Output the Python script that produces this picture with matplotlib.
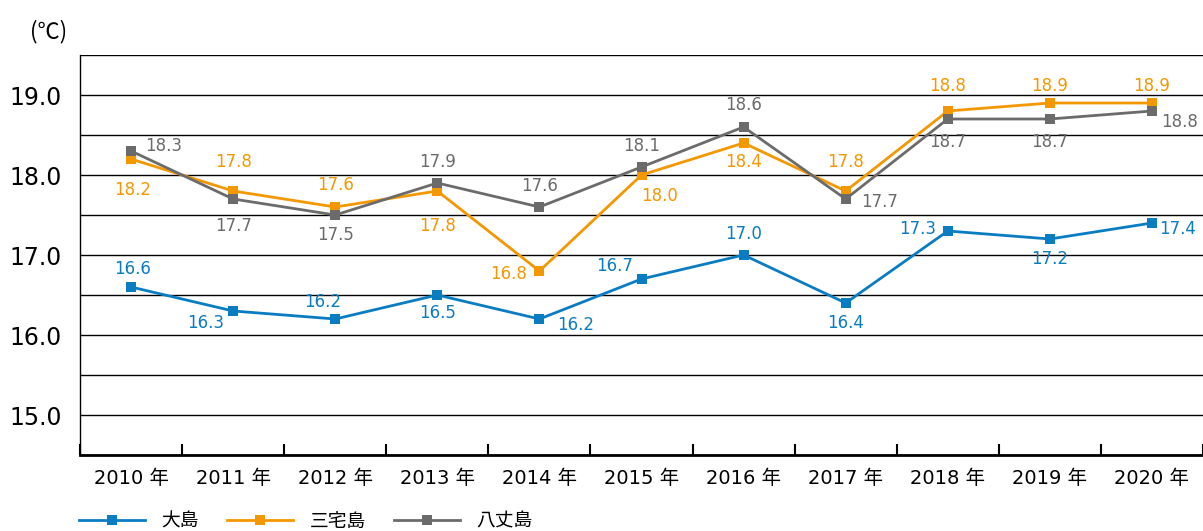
import matplotlib.pyplot as plt
from matplotlib.ticker import MultipleLocator

# DejaVu for the wide digits, Noto CJK for the kanji
plt.rcParams['font.family'] = ['DejaVu Sans', 'Noto Sans CJK JP']

# data
years = ["2010 年", "2011 年", "2012 年", "2013 年", "2014 年", "2015 年",
         "2016 年", "2017 年", "2018 年", "2019 年", "2020 年"]
oshima = [16.6, 16.3, 16.2, 16.5, 16.2, 16.7, 17.0, 16.4, 17.3, 17.2, 17.4]
miyake = [18.2, 17.8, 17.6, 17.8, 16.8, 18.0, 18.4, 17.8, 18.8, 18.9, 18.9]
hachijo = [18.3, 17.7, 17.5, 17.9, 17.6, 18.1, 18.6, 17.7, 18.7, 18.7, 18.8]

# label offsets in pixels (dx, dy), per point
off_oshima = [(2, 18), (-28, -12), (-13, 17), (0, -18), (36, -6), (-27, 13),
              (0, 21), (0, -20), (-30, 2), (0, -20), (26, -6)]
off_miyake = [(2, -31), (0, 29), (0, 22), (0, -35), (-31, -3), (18, -21),
              (0, -19), (0, 29), (0, 25), (0, 17), (0, 17)]
off_hachijo = [(33, 5), (0, -27), (0, -20), (0, 21), (0, 21), (0, 21),
               (0, 22), (34, -3), (0, -23), (0, -23), (28, -11)]

series = [
    ("大島", oshima, "#0a7cc2", off_oshima),
    ("三宅島", miyake, "#f39800", off_miyake),
    ("八丈島", hachijo, "#6b6b6b", off_hachijo),
]

W, H = 1203, 531
fig = plt.figure(figsize=(W / 100, H / 100), dpi=100)
ax = fig.add_axes([80 / W, 1 - 455 / H, 1 - 80 / W, 400 / H])

x = list(range(len(years)))
for name, vals, color, offs in series:
    ax.plot(x, vals, color=color, lw=2.0, marker="s", markersize=7.5,
            markeredgewidth=0, label=name, zorder=3)
    for xi, v, (dx, dy) in zip(x, vals, offs):
        ax.annotate(f"{v:.1f}", (xi, v), xytext=(dx, dy),
                    textcoords="offset pixels", ha="center", va="center",
                    color=color, fontsize=12, zorder=4)

ax.set_xlim(-0.5, len(years) - 0.5)
ax.set_ylim(14.5, 19.5)
ax.yaxis.set_major_locator(MultipleLocator(1.0))
ax.yaxis.set_minor_locator(MultipleLocator(0.5))
ax.yaxis.set_major_formatter(lambda v, p: f"{v:.1f}")
ax.grid(True, axis="y", which="both", color="black", lw=1.0, zorder=1)
ax.tick_params(axis="y", which="both", length=0, labelsize=17, pad=13)

ax.set_xticks(x)
ax.set_xticklabels(years, fontsize=14)
ax.set_xticks([i - 0.5 for i in range(len(years) + 1)], minor=True)
ax.tick_params(axis="x", which="major", length=0, pad=10)
ax.tick_params(axis="x", which="minor", direction="in", length=8, width=1.5)

for s in ["top", "right"]:
    ax.spines[s].set_visible(False)
ax.spines["left"].set_linewidth(1.0)
ax.spines["bottom"].set_linewidth(2.0)

fig.text(49 / W, 1 - 32 / H, "(℃)", ha="center", va="center", fontsize=16,
         family=["Noto Sans CJK JP", "DejaVu Sans"])

fig.legend(loc="center left", bbox_to_anchor=(79 / W, 1 - 521 / H),
           ncol=3, frameon=False, fontsize=13.5, handlelength=3.5,
           handletextpad=0.9, columnspacing=1.5, borderpad=0, borderaxespad=0)

fig.savefig("out.png", dpi=100)
